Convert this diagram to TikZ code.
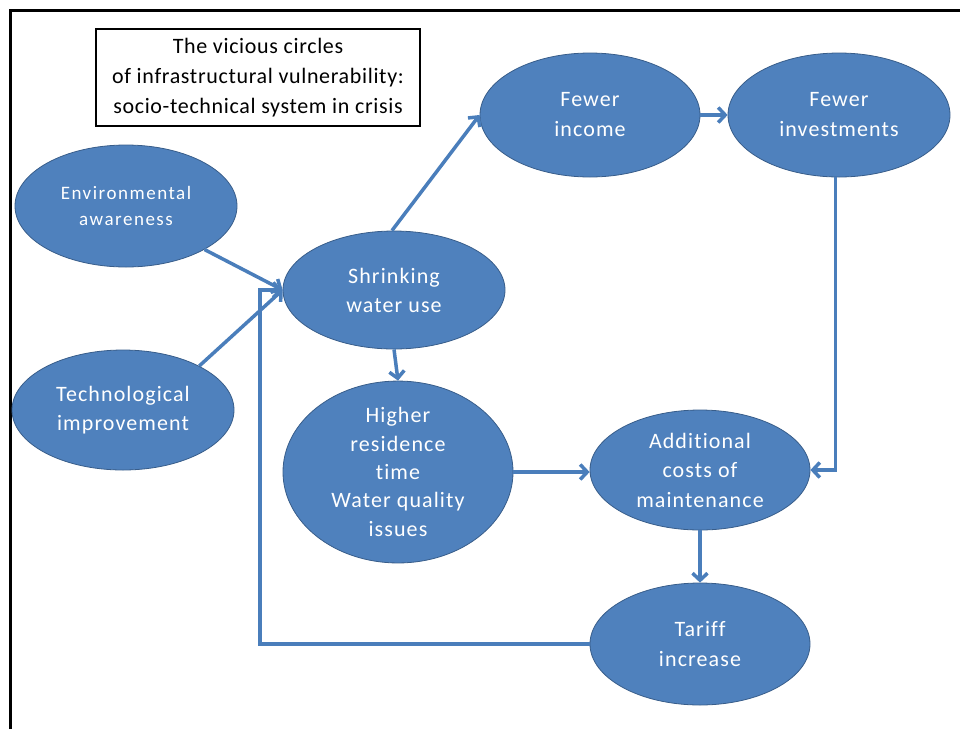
\documentclass[tikz,border=0pt]{standalone}
\usepackage{fontspec}
\usetikzlibrary{shapes.geometric,arrows.meta}
\newfontfamily\nodefont[LetterSpace=5,Ligatures=NoCommon]{Carlito}
\newfontfamily\smallnodefont[LetterSpace=8,Ligatures=NoCommon]{Carlito}
\newfontfamily\titlefont[LetterSpace=3,Ligatures=NoCommon]{Carlito}
\definecolor{ellfill}{HTML}{4F81BD}
\definecolor{elldraw}{HTML}{385D8A}
\definecolor{arrcol}{HTML}{4A7EBB}
\tikzset{
  bubble/.style={ellipse, fill=ellfill, draw=elldraw, line width=0.8pt, inner sep=0pt,
    minimum width=#1, text=white, align=center,
    font=\nodefont\fontsize{22}{30}\selectfont},
  conn/.style={draw=arrcol, line width=3.5pt, -{Straight Barb[length=7pt,width=15pt]}},
  plainconn/.style={draw=arrcol, line width=3.5pt}
}
\begin{document}
\begin{tikzpicture}[x=1pt,y=-1pt]
\useasboundingbox (0,0) rectangle (960,729);
\draw[line width=2.5pt] (10.5,729) -- (10.5,10.5) -- (960,10.5);
% title
\node[draw=black, line width=1.5pt, minimum width=324pt, minimum height=97pt, inner sep=0pt,
  align=center, font=\titlefont\fontsize{22}{30}\selectfont] (title) at (258,77.5)
  {The vicious circles\\of infrastructural vulnerability:\\socio-technical system in crisis};
% nodes
\node[bubble=222pt, minimum height=122pt, font=\smallnodefont\fontsize{19}{26}\selectfont] (env) at (126,206) {Environmental\\awareness};
\node[bubble=222pt, minimum height=120pt, font=\nodefont\fontsize{22}{29}\selectfont] (tech) at (123,410) {Technological\\improvement};
\node[bubble=222pt, minimum height=118pt, font=\nodefont\fontsize{22}{29}\selectfont] (shrink) at (394,290) {Shrinking\\water use};
\node[bubble=220pt, minimum height=124pt] (income) at (590,115) {Fewer\\income};
\node[bubble=222pt, minimum height=124pt] (inv) at (839,115) {Fewer\\investments};
\node[bubble=230pt, minimum height=136pt, font=\nodefont\fontsize{22}{28.3}\selectfont] (higher) at (398,472) {Higher\\residence\\time\\Water quality\\issues};
\node[bubble=220pt, minimum height=120pt, font=\nodefont\fontsize{22}{29.5}\selectfont] (add) at (700,470) {Additional\\costs of\\maintenance};
\node[bubble=220pt, minimum height=122pt] (tariff) at (700,644) {Tariff\\increase};
\coordinate (loop) at (260,0);
% connectors
\draw[conn] (env.-29) -- (shrink.west);
\draw[conn] (tech.30) -- (shrink.west);
\draw[conn] (shrink.92) -- (income.west);
\draw[conn] (income.east) -- (inv.west);
\draw[conn] (inv.-93) |- (add.east);
\draw[conn] (shrink.south) -- (higher.north);
\draw[conn] (higher.east) -- (higher.east -| add.west);
\draw[conn] (add.south) -- (tariff.north);
\draw[conn] (tariff.west) -- (tariff.west -| loop) |- (shrink.west);
\end{tikzpicture}
\end{document}
